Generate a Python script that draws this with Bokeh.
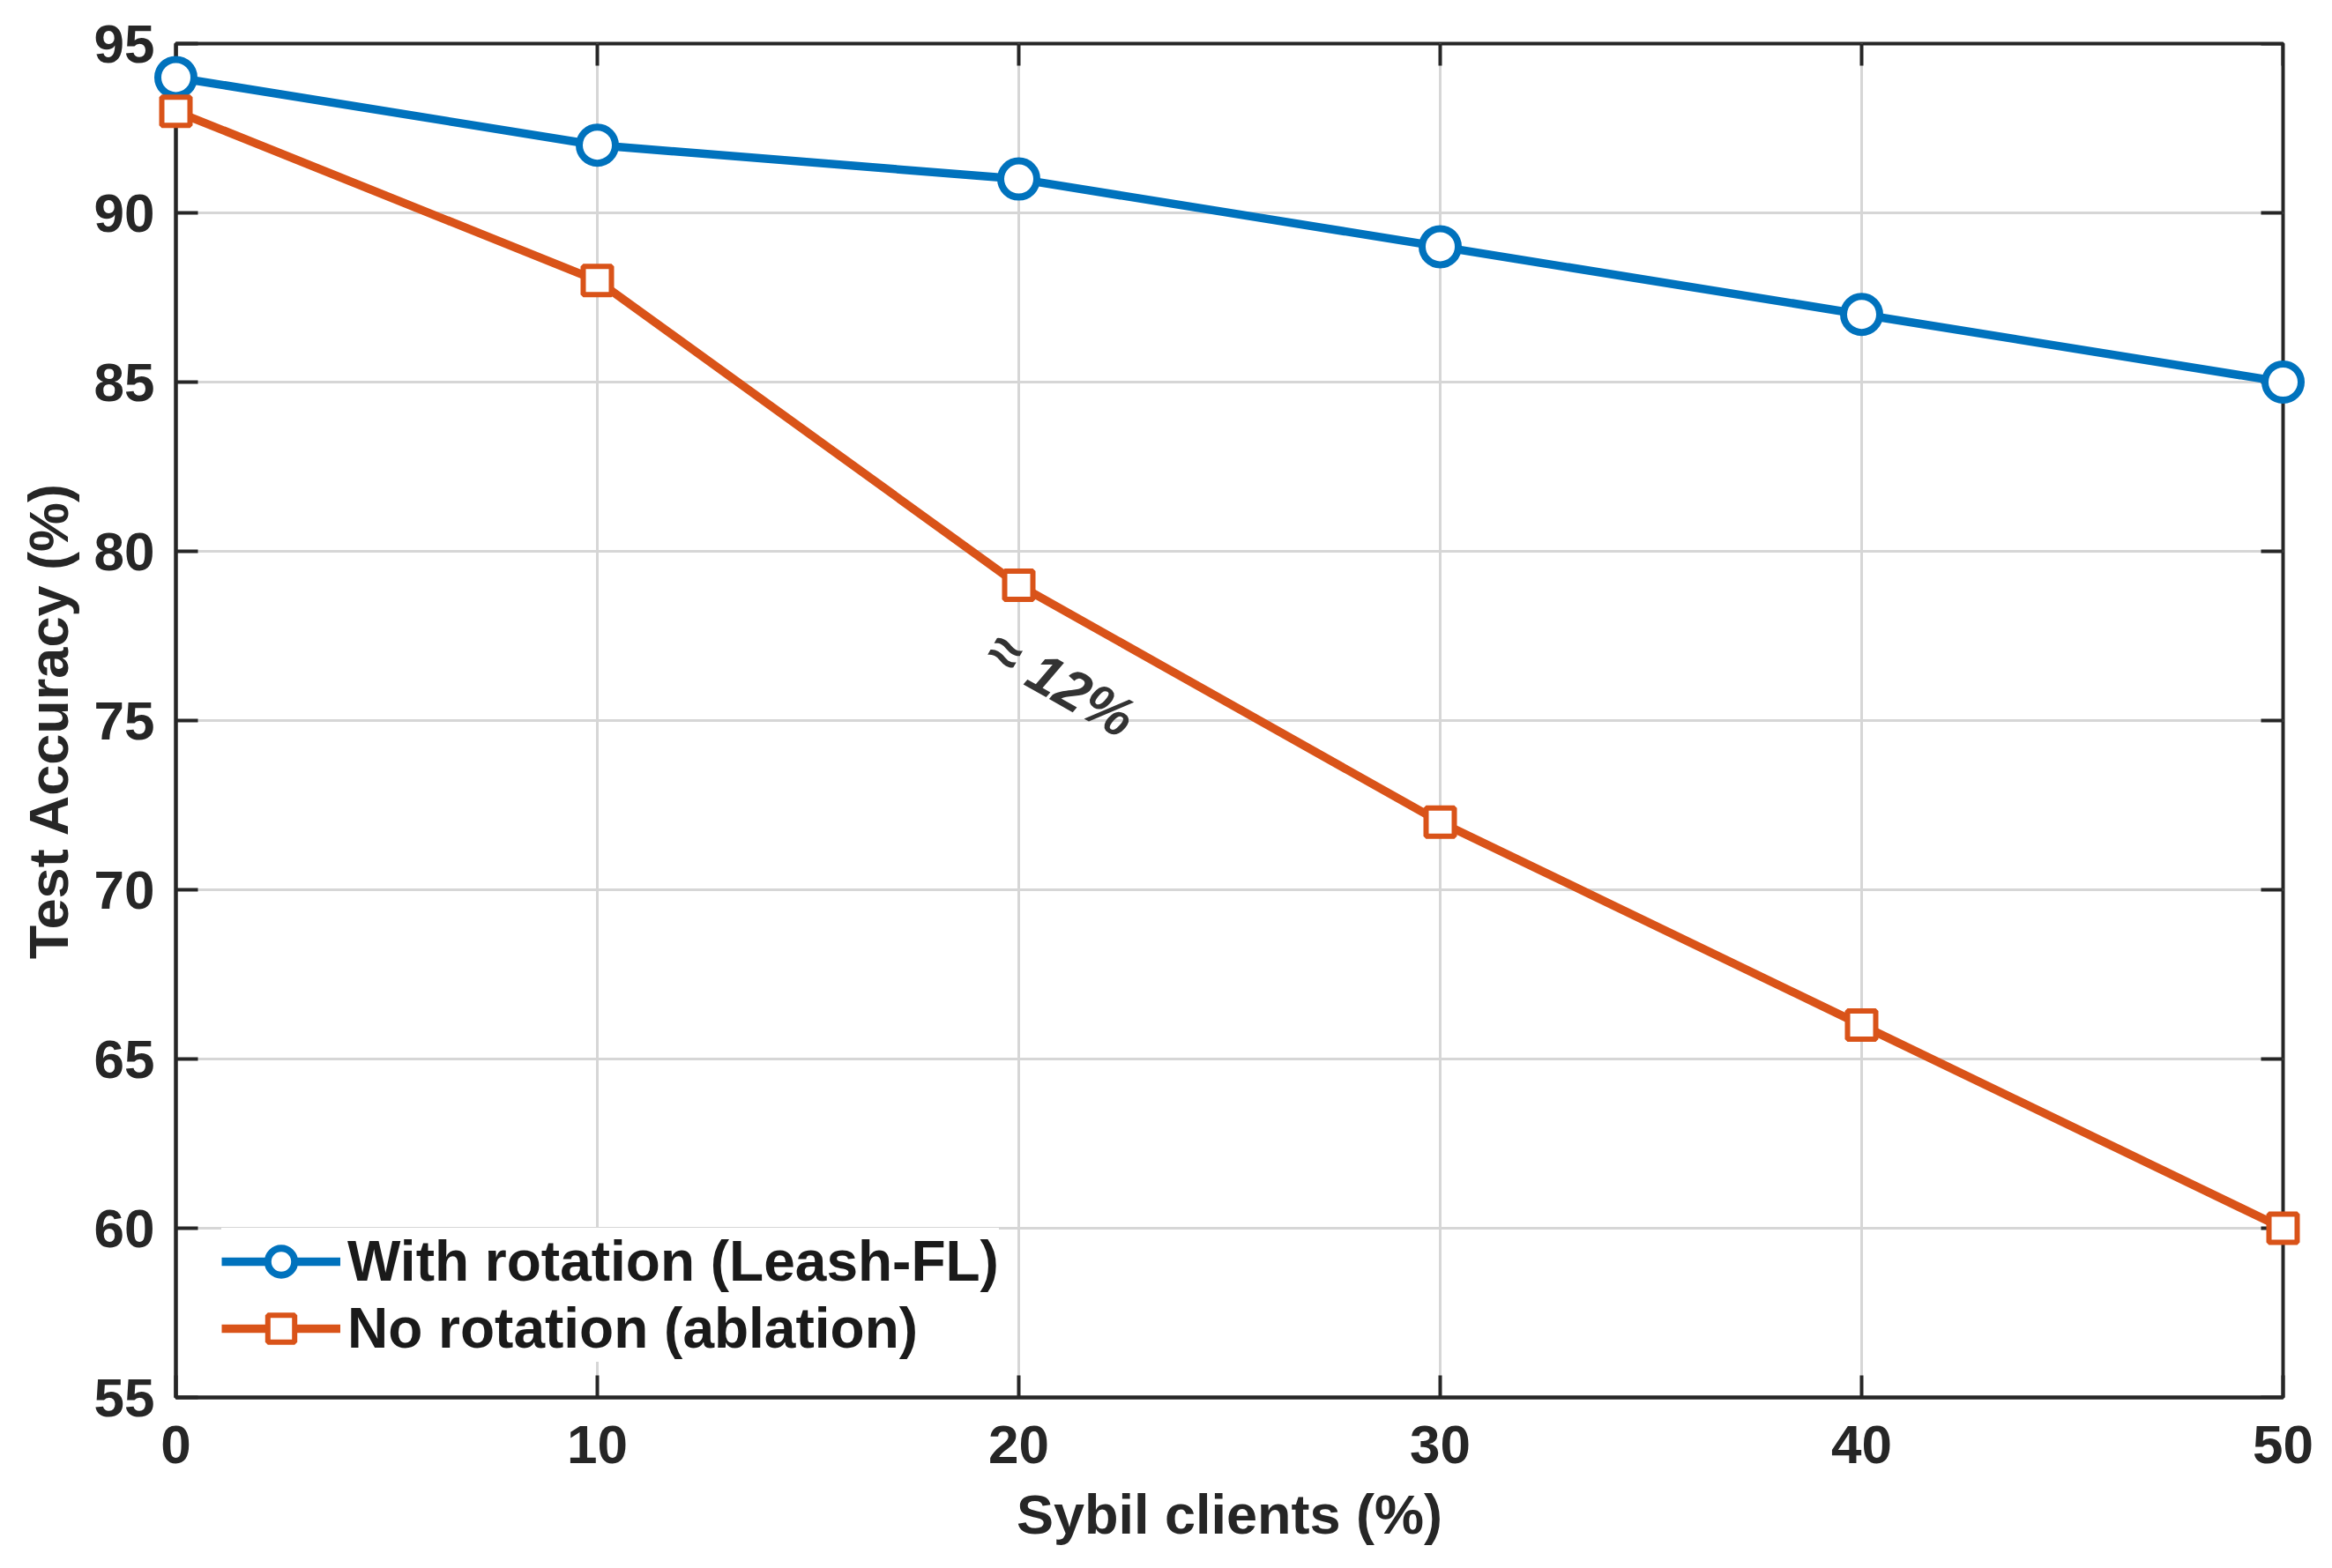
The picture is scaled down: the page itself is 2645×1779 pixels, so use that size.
import math
from bokeh.plotting import figure
from bokeh.models import Range1d, FixedTicker
from bokeh.core.properties import value
from bokeh.embed import file_html
from bokeh.resources import INLINE

# data
sybil_pct = [0, 10, 20, 30, 40, 50]
acc_rotation = [94, 92, 91, 89, 87, 85]
acc_no_rotation = [93, 88, 79, 72, 66, 60]
x_ticks = [0, 10, 20, 30, 40, 50]
y_ticks = [55, 60, 65, 70, 75, 80, 85, 90, 95]
x_lim = (0, 50)
y_lim = (55, 95)

# annotation on the no-rotation curve
annot_text = ["≈ 12%"]
annot_x = [21.0]
annot_y = [76.1]

BLUE = "#0072BD"
ORANGE = "#D95319"
INK = "#262626"
FONT = "Liberation Sans"

p = figure(width=2629, height=1771, frame_width=2390, frame_height=1536,
           x_range=Range1d(*x_lim), y_range=Range1d(*y_lim),
           min_border_left=199, min_border_right=40, min_border_top=49, min_border_bottom=186,
           x_axis_label="Sybil clients (%)", y_axis_label="Test Accuracy (%)",
           output_backend="svg", toolbar_location=None)
p.outline_line_color = INK
p.outline_line_width = 4
p.background_fill_color = "white"

xt = FixedTicker(ticks=x_ticks)
yt = FixedTicker(ticks=y_ticks)
p.xaxis.ticker = xt
p.yaxis.ticker = yt

for ax in (p.xaxis[0], p.yaxis[0]):
    ax.axis_line_width = 4
    ax.axis_line_color = INK
    ax.major_tick_in = 25
    ax.major_tick_out = 0
    ax.major_tick_line_width = 4
    ax.major_tick_line_color = INK
    ax.minor_tick_line_color = None
    ax.major_label_text_font = FONT
    ax.major_label_text_font_style = "bold"
    ax.major_label_text_font_size = "62px"
    ax.major_label_text_color = INK
    ax.axis_label_text_font = FONT
    ax.axis_label_text_font_style = "bold"
    ax.axis_label_text_font_size = "63px"
    ax.axis_label_text_color = INK
p.xaxis.major_label_standoff = 32
p.xaxis.axis_label_standoff = 20
p.yaxis.major_label_standoff = 24
p.yaxis.axis_label_standoff = 14

# inward ticks on the top and right sides of the box
p.ray(x=x_ticks, y=[y_lim[1]] * len(x_ticks), length=25, length_units="screen",
      angle=-math.pi / 2, line_color=INK, line_width=4)
p.ray(x=[x_lim[1]] * len(y_ticks), y=y_ticks, length=25, length_units="screen",
      angle=math.pi, line_color=INK, line_width=4)

p.xgrid.ticker = xt
p.ygrid.ticker = yt
p.grid.grid_line_color = "#d6d6d6"
p.grid.grid_line_width = 3

p.line(sybil_pct, acc_rotation, line_color=BLUE, line_width=9.5,
       legend_label="With rotation (Leash-FL)")
s1 = p.scatter(sybil_pct, acc_rotation, marker="circle", size=41, line_color=BLUE,
               line_width=8, fill_color="white", legend_label="With rotation (Leash-FL)")
p.line(sybil_pct, acc_no_rotation, line_color=ORANGE, line_width=9.5,
       legend_label="No rotation (ablation)")
s2 = p.scatter(sybil_pct, acc_no_rotation, marker="square", size=32, line_color=ORANGE,
               line_width=6, fill_color="white", legend_label="No rotation (ablation)")
s1.level = "overlay"
s2.level = "overlay"

p.text(annot_x, annot_y, text=annot_text, angle=-0.513, text_align="center",
       text_baseline="middle", text_font=value(FONT), text_font_style="bold italic",
       text_font_size="64px", text_color="#333333")

leg = p.legend[0]
leg.location = (52, 40)
leg.border_line_color = None
leg.background_fill_color = "white"
leg.background_fill_alpha = 1
leg.label_text_font = FONT
leg.label_text_font_style = "bold"
leg.label_text_font_size = "64px"
leg.label_text_color = "#1a1a1a"
leg.glyph_width = 135
leg.glyph_height = 76
leg.label_height = 73
leg.label_standoff = 8
leg.spacing = 0
leg.padding = 10
leg.margin = 0

open("out.html", "w").write(file_html(p, INLINE))
